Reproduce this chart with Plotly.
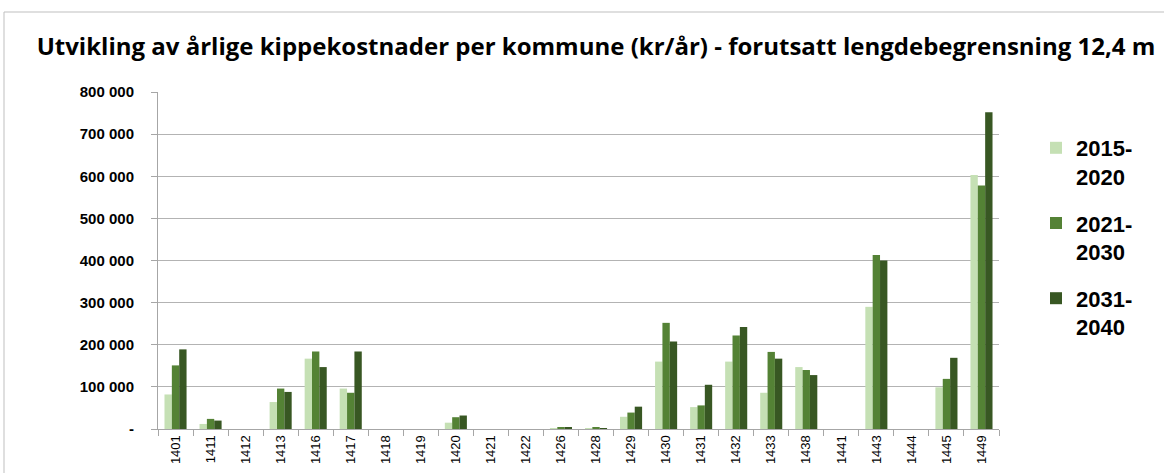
import plotly.graph_objects as go

categories = ["1401", "1411", "1412", "1413", "1416", "1417", "1418", "1419", "1420", "1421",
              "1422", "1426", "1428", "1429", "1430", "1431", "1432", "1433", "1438", "1441",
              "1443", "1444", "1445", "1449"]
s2015_2020 = [82000, 12000, 0, 64000, 167000, 96000, 0, 0, 15000, 0,
              0, 500, 1000, 29000, 160000, 52000, 160000, 86000, 147000, 0,
              290000, 0, 99000, 603000]
s2021_2030 = [151000, 24000, 0, 96000, 184000, 86000, 0, 0, 28000, 0,
              0, 3000, 4000, 39000, 252000, 56000, 222000, 183000, 140000, 0,
              413000, 0, 119000, 578000]
s2031_2040 = [189000, 20000, 0, 88000, 147000, 184000, 0, 0, 32000, 0,
              0, 4000, 2000, 53000, 208000, 105000, 242000, 167000, 128000, 0,
              400000, 0, 169000, 752000]
series_names = ["2015-<br>2020", "2021-<br>2030", "2031-<br>2040"]
series_colors = ["#c5e0b4", "#548235", "#385723"]
ytickvals = [0, 100000, 200000, 300000, 400000, 500000, 600000, 700000, 800000]
yticktext = ["-", "100 000", "200 000", "300 000", "400 000", "500 000", "600 000", "700 000", "800 000"]
title = "Utvikling av årlige kippekostnader per kommune (kr/år) - forutsatt lengdebegrensning 12,4 m"

fig = go.Figure()
for i, (name, vals, col) in enumerate(zip(series_names, [s2015_2020, s2021_2030, s2031_2040], series_colors)):
    fig.add_trace(go.Bar(x=categories, y=vals, name=name, marker_color=col,
                         marker_line_width=0, legendgroup=f"g{i}"))

W, H = 1164, 473
L, R, T, B = 158, 165, 92, 44
pw = W - L - R
ph = H - T - B

fig.update_layout(
    width=W, height=H,
    margin=dict(l=L, r=R, t=T, b=B, autoexpand=False),
    paper_bgcolor="white", plot_bgcolor="white",
    barmode="group", bargap=0.37, bargroupgap=0,
    font=dict(family="Liberation Sans, Arial, sans-serif", color="#000000"),
    title=dict(text="<b>" + title + "</b>", x=596 / W, xanchor="center",
               y=1 - 47 / H, yanchor="middle", yref="container",
               font=dict(family="Open Sans, Liberation Sans, sans-serif", size=24, color="#000000")),
    showlegend=True,
    legend=dict(x=(1036 - L) / pw, xanchor="left", y=(H - B - 127) / ph, yanchor="top",
                font=dict(size=22, color="#000000", weight="bold"), tracegroupgap=15,
                valign="top", itemwidth=30, bgcolor="rgba(0,0,0,0)"),
    xaxis=dict(type="category", showline=True, linecolor="#a6a6a6", linewidth=1,
               ticks="outside", tickson="boundaries", ticklen=6, tickcolor="#a6a6a6",
               tickangle=-90, tickfont=dict(size=13, color="#000000"), showgrid=False,
               automargin=False),
    yaxis=dict(range=[0, 800000], tickvals=ytickvals, ticktext=yticktext,
               showline=True, linecolor="#a6a6a6", linewidth=1,
               ticks="outside", ticklen=6, tickcolor="#a6a6a6",
               showgrid=True, gridcolor="#b3b3b3", gridwidth=1,
               tickfont=dict(size=15, color="#000000", weight="bold"),
               ticklabelstandoff=14, zeroline=False, automargin=False),
)

# outer chart frame (top and left edges visible)
fig.add_shape(type="line", xref="paper", yref="paper",
              x0=(4 - L) / pw, x1=(W + 10 - L) / pw, y0=(H - B - 12) / ph, y1=(H - B - 12) / ph,
              line=dict(color="#bfbfbf", width=1))
fig.add_shape(type="line", xref="paper", yref="paper",
              x0=(4 - L) / pw, x1=(4 - L) / pw, y0=(H - B - 12) / ph, y1=(H - B - H - 10) / ph,
              line=dict(color="#bfbfbf", width=1))

fig.write_html("out.html", config={"displayModeBar": False},
               post_script="document.body.style.margin='0';document.body.style.overflow='hidden';")
